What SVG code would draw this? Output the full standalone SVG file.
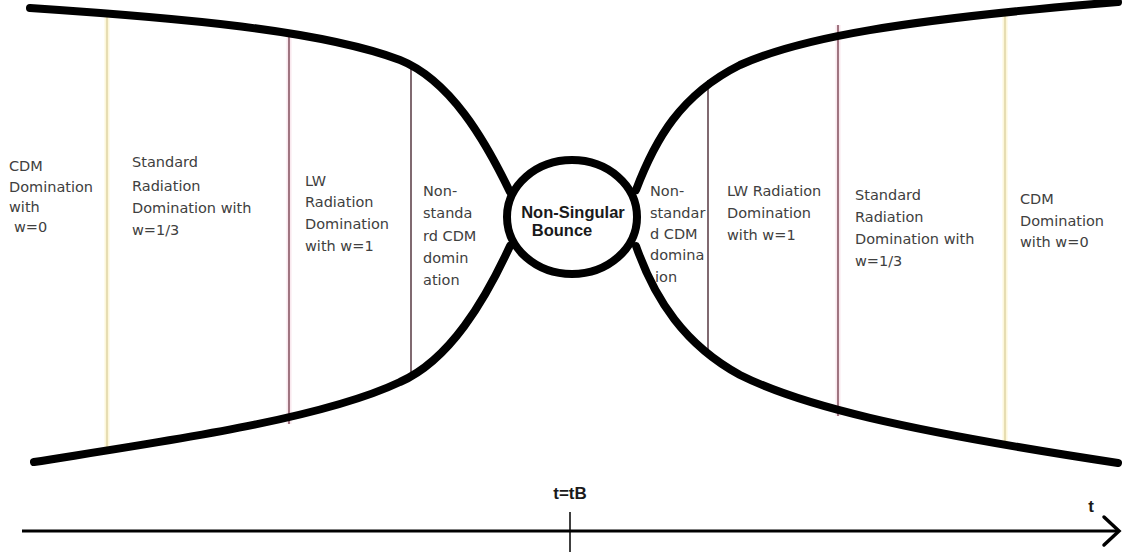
<svg xmlns="http://www.w3.org/2000/svg" width="1127" height="558" viewBox="0 0 1127 558">
<style>
.curve{fill:none;stroke:#000;stroke-width:8;stroke-linecap:round;stroke-linejoin:round}
.lbl{font-family:"DejaVu Sans",sans-serif;font-size:14.5px;fill:#404040}
.bold{font-family:"Liberation Sans",Arial,sans-serif;font-weight:bold;fill:#1a1a1a}
.yhalo{stroke:#fdf7da;stroke-width:5}
.ycore{stroke:#d8cb98;stroke-width:1.2}
.rhalo{stroke:#f9e8ee;stroke-width:5}
.rcore{stroke:#7a4452;stroke-width:1.4}
.dcore{stroke:#4a2a34;stroke-width:1.4}
.axis{fill:none;stroke:#000;stroke-width:3}
</style>
<rect width="1127" height="558" fill="#fff"/>
<g id="dividers">
<line class="yhalo" x1="107" y1="14" x2="107" y2="448"/>
<line class="ycore" x1="107" y1="14" x2="107" y2="448"/>
<line class="rhalo" x1="289" y1="30" x2="289" y2="424"/>
<line class="rcore" x1="289" y1="30" x2="289" y2="424"/>
<line class="dcore" x1="411" y1="64" x2="411" y2="378"/>
<line class="dcore" x1="708" y1="80" x2="708" y2="356"/>
<line class="rhalo" x1="838" y1="25" x2="838" y2="416"/>
<line class="rcore" x1="838" y1="25" x2="838" y2="416"/>
<line class="yhalo" x1="1005" y1="9" x2="1005" y2="446"/>
<line class="ycore" x1="1005" y1="9" x2="1005" y2="446"/>
</g>
<g id="connectors">
<path class="curve" d="M30,8 C180,18 320,30 400,60 C450,80 485,140 510,192"/>
<path class="curve" d="M34,462 C160,442 320,420 400,382 C450,360 485,300 510,246"/>
<path class="curve" d="M636,190 C655,140 680,95 740,65 C800,38 900,20 1118,2"/>
<path class="curve" d="M636,246 C655,300 685,345 740,375 C800,405 900,430 1118,463"/>
</g>
<g id="bounce">
<ellipse cx="572" cy="217" rx="65" ry="57" fill="#fff" stroke="#000" stroke-width="8"/>
<text class="bold" font-size="16.5" x="573" y="218" text-anchor="middle">Non-Singular</text>
<text class="bold" font-size="16.5" x="562" y="236" text-anchor="middle">Bounce</text>
</g>
<g id="region-cdm-left">
<text class="lbl" x="9" y="171">CDM</text>
<text class="lbl" x="9" y="192">Domination</text>
<text class="lbl" x="9" y="212">with</text>
<text class="lbl" x="14" y="232">w=0</text>
</g>
<g id="region-std-left">
<text class="lbl" x="132" y="167">Standard</text>
<text class="lbl" x="132" y="191">Radiation</text>
<text class="lbl" x="132" y="213">Domination with</text>
<text class="lbl" x="132" y="235">w=1/3</text>
</g>
<g id="region-lw-left">
<text class="lbl" x="305" y="186">LW</text>
<text class="lbl" x="305" y="207">Radiation</text>
<text class="lbl" x="305" y="229">Domination</text>
<text class="lbl" x="305" y="251">with w=1</text>
</g>
<g id="region-ns-left">
<text class="lbl" x="423" y="196">Non-</text>
<text class="lbl" x="423" y="218">standa</text>
<text class="lbl" x="423" y="241">rd CDM</text>
<text class="lbl" x="423" y="263">domin</text>
<text class="lbl" x="423" y="285">ation</text>
</g>
<g id="region-ns-right">
<text class="lbl" x="650" y="196">Non-</text>
<text class="lbl" x="650" y="218">standar</text>
<text class="lbl" x="650" y="239">d CDM</text>
<text class="lbl" x="650" y="260">domina</text>
<text class="lbl" x="655" y="282">ion</text>
</g>
<g id="region-lw-right">
<text class="lbl" x="727" y="196">LW Radiation</text>
<text class="lbl" x="727" y="218">Domination</text>
<text class="lbl" x="727" y="240">with w=1</text>
</g>
<g id="region-std-right">
<text class="lbl" x="855" y="200">Standard</text>
<text class="lbl" x="855" y="222">Radiation</text>
<text class="lbl" x="855" y="244">Domination with</text>
<text class="lbl" x="855" y="266">w=1/3</text>
</g>
<g id="region-cdm-right">
<text class="lbl" x="1020" y="204">CDM</text>
<text class="lbl" x="1020" y="226">Domination</text>
<text class="lbl" x="1020" y="247">with w=0</text>
</g>
<g id="time-axis">
<line class="axis" x1="22" y1="531" x2="1118" y2="531"/>
<polyline points="1104,517 1119,531 1104,545" fill="none" stroke="#000" stroke-width="3.5" stroke-linecap="round" stroke-linejoin="miter"/>
<line x1="570" y1="512" x2="570" y2="552" stroke="#000" stroke-width="1.5"/>
<text class="bold" font-size="17" x="570" y="499" text-anchor="middle">t=tB</text>
<text class="bold" font-size="17" x="1091" y="512" text-anchor="middle">t</text>
</g>
</svg>
